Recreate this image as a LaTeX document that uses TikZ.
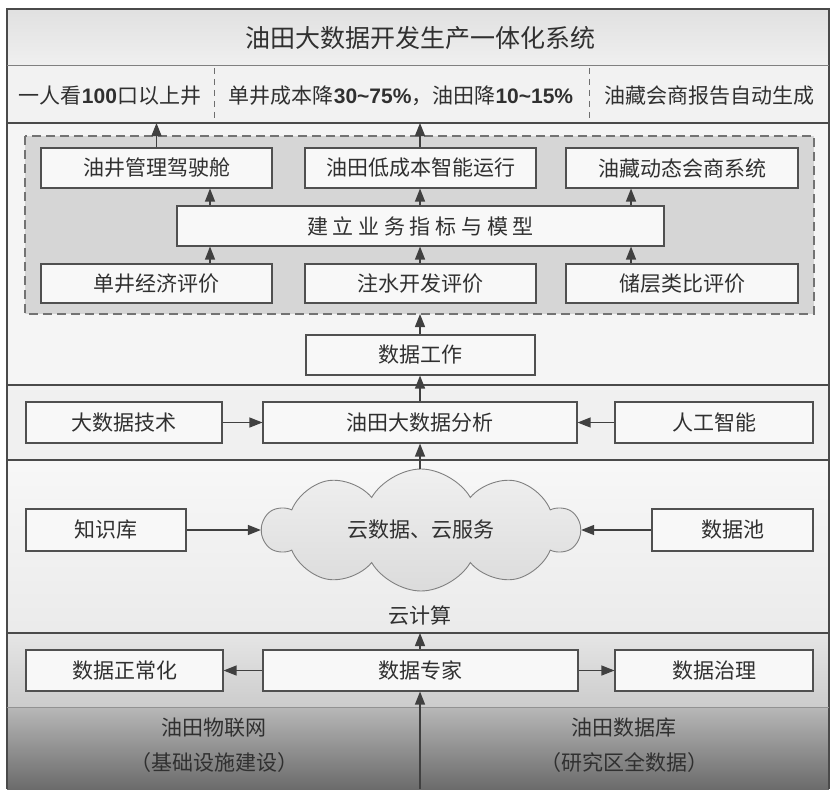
\documentclass[tikz,border=0pt]{standalone}
\usepackage{fontspec}
\setmainfont{Noto Sans CJK SC}
\newfontfamily\latin{Liberation Sans}
\usetikzlibrary{shapes.symbols,arrows.meta}
\definecolor{frame}{HTML}{4A4A4A}
\definecolor{boxline}{HTML}{505050}
\definecolor{boxfill}{HTML}{F8F8F8}
\definecolor{txt}{HTML}{303030}
\definecolor{arrc}{HTML}{404040}
\newcommand{\nm}[1]{{\latin\bfseries #1}}
\begin{document}
\begin{tikzpicture}[x=1pt,y=-1pt,
  box/.style={draw=boxline, line width=1.1pt, fill=boxfill, inner sep=0pt,
    font=\fontsize{21}{21}\selectfont, text=txt},
  lbl/.style={inner sep=0pt, font=\fontsize{21}{21}\selectfont, text=txt},
  arr/.style={-{Triangle[length=13pt,width=10pt]}, draw=arrc, line width=1.2pt}]
\useasboundingbox (0,0) rectangle (834,789);
% bands
\fill[top color=white!88!black, bottom color=white!94!black] (7,9) rectangle (829,66);
\fill[white!95!black] (7,66) rectangle (829,123);
\fill[white!96!black] (7,123) rectangle (829,385);
\fill[white!94!black] (7,385) rectangle (829,460);
\fill[top color=white!97!black, bottom color=white!92!black] (7,460) rectangle (829,633);
\fill[top color=white!90!black, bottom color=white!80!black] (7,633) rectangle (829,707);
\fill[top color=white!72!black, bottom color=white!42!black] (7,707) rectangle (829,789);
\draw[frame, line width=1.4pt] (7,789) -- (7,9) -- (829,9) -- (829,789);
\draw[frame!70, line width=1pt] (7,66) -- (829,66);
\draw[frame, line width=1.4pt] (7,123) -- (829,123);
\draw[frame, line width=1.4pt] (7,385) -- (829,385);
\draw[frame, line width=1.4pt] (7,460) -- (829,460);
\draw[frame, line width=1.4pt] (7,633) -- (829,633);
\draw[frame!60, line width=1pt] (7,707) -- (829,707);
\draw[frame!80, dash pattern=on 6pt off 5pt, line width=0.8pt] (214,68) -- (214,121);
\draw[frame!80, dash pattern=on 6pt off 5pt, line width=0.8pt] (589,68) -- (589,121);
% named boundary coordinates
\coordinate (topb) at (420,123);
\coordinate (cloudtopb) at (420,633);
\coordinate (bottomb) at (420,789);
\coordinate (m1) at (210,0);
\coordinate (m2) at (420,0);
\coordinate (m3) at (631,0);
% title row
\node[lbl, font=\fontsize{25}{25}\selectfont] (title) at (420,38) {油田大数据开发生产一体化系统};
\node[lbl] (g1) at (110,96) {一人看\nm{100}口以上井};
\node[lbl] (g2) at (401,96) {单井成本降\nm{30\textasciitilde75\%}，油田降\nm{10\textasciitilde15\%}};
\node[lbl] (g3) at (709,96) {油藏会商报告自动生成};
% dashed group
\draw[fill=white!84!black, draw=black!55, dash pattern=on 9pt off 5pt, line width=1.1pt] (25,136) rectangle (814,314);
\node[box, minimum width=231pt, minimum height=40pt] (r1a) at (156.5,168) {油井管理驾驶舱};
\node[box, minimum width=231pt, minimum height=40pt] (r1b) at (420.5,168) {油田低成本智能运行};
\node[box, minimum width=232pt, minimum height=40pt] (r1c) at (682,168) {油藏动态会商系统};
\node[box, minimum width=487pt, minimum height=40pt] (mid) at (420.5,226) {建 立 业 务 指 标 与 模 型};
\node[box, minimum width=231pt, minimum height=39pt] (r3a) at (156.5,283.5) {单井经济评价};
\node[box, minimum width=231pt, minimum height=39pt] (r3b) at (420.5,283.5) {注水开发评价};
\node[box, minimum width=232pt, minimum height=39pt] (r3c) at (682,283.5) {储层类比评价};
\coordinate (grpb) at (420,314);
% data work
\node[box, minimum width=229pt, minimum height=40pt] (work) at (420.5,355) {数据工作};
% analysis row
\node[box, minimum width=196pt, minimum height=41pt] (bigt) at (124,422.5) {大数据技术};
\node[box, minimum width=314pt, minimum height=41pt] (ana) at (420,422.5) {油田大数据分析};
\node[box, minimum width=198pt, minimum height=41pt] (ai) at (714,422.5) {人工智能};
% cloud row
\node[cloud, cloud puffs=10, cloud puff arc=120, aspect=2.5, draw=black!50, line width=0.9pt,
  top color=white!94!black, bottom color=white!86!black,
  minimum width=316pt, minimum height=122pt, inner sep=0pt,
  font=\fontsize{21}{21}\selectfont, text=txt] (cloud) at (421,530) {云数据、云服务};
\node[box, minimum width=160pt, minimum height=42pt] (kb) at (106,530) {知识库};
\node[box, minimum width=161pt, minimum height=42pt] (pool) at (732.5,530) {数据池};
\node[lbl] (cc) at (420,615) {云计算};
% expert row
\node[box, minimum width=197pt, minimum height=41pt] (norm) at (124.5,670.5) {数据正常化};
\node[box, minimum width=315pt, minimum height=41pt] (exp) at (420.5,670.5) {数据专家};
\node[box, minimum width=198pt, minimum height=41pt] (gov) at (714,670.5) {数据治理};
% bottom
\node[lbl] (iot1) at (214,728) {油田物联网};
\node[lbl] (iot2) at (214,763) {（基础设施建设）};
\node[lbl] (db1) at (624,728) {油田数据库};
\node[lbl] (db2) at (624,763) {（研究区全数据）};
% arrows
\draw[arr] (r1a.north) -- (r1a.north |- topb);
\draw[arr] (r1b.north -| m2) -- (topb);
\foreach \m in {m1,m2,m3}{
  \draw[arr] (mid.north -| \m) -- (r1a.south -| \m);
  \draw[arr] (r3a.north -| \m) -- (mid.south -| \m);
}
\draw[arr] (work.north -| m2) -- (grpb);
\draw[arr] (ana.north -| m2) -- (work.south -| m2);
\draw[arr] (cloud.north -| m2) -- (ana.south -| m2);
\draw[arr] (bigt.east) -- (ana.west);
\draw[arr] (ai.west) -- (ana.east);
\draw[arr] (kb.east) -- (cloud.west |- kb.east);
\draw[arr] (pool.west) -- (cloud.east |- pool.west);
\draw[arr] (exp.north -| m2) -- (cloudtopb);
\draw[arr] (exp.west) -- (norm.east);
\draw[arr] (exp.east) -- (gov.west);
\draw[arr] (bottomb) -- (exp.south -| m2);
\end{tikzpicture}
\end{document}
